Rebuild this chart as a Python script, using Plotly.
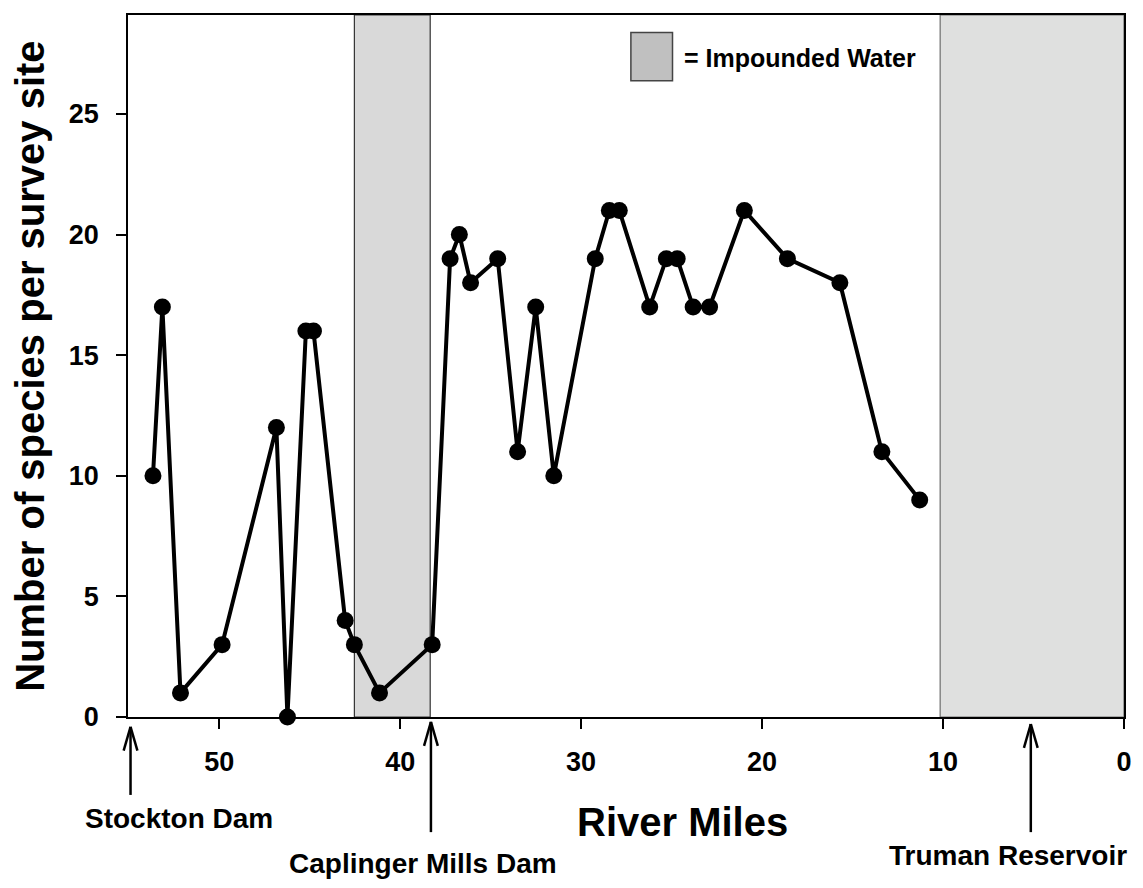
import plotly.graph_objects as go

# River miles of survey sites and number of species found
river_miles = [53.66, 53.14, 52.14, 49.84, 46.84, 46.23, 45.21, 44.79, 43.04, 42.53,
               41.14, 38.23, 37.24, 36.73, 36.11, 34.61, 33.51, 32.51, 31.51, 29.22,
               28.44, 27.89, 26.21, 25.29, 24.69, 23.81, 22.90, 20.98, 18.60, 15.70,
               13.38, 11.29]
species = [10, 17, 1, 3, 12, 0, 16, 16, 4, 3,
           1, 3, 19, 20, 18, 19, 11, 17, 10, 19,
           21, 21, 17, 19, 19, 17, 17, 21, 19, 18,
           11, 9]

x_ticks = [0, 10, 20, 30, 40, 50]
y_ticks = [0, 5, 10, 15, 20, 25]

X_RANGE = [55.04, 0]
Y_RANGE = [0, 29.1]

# impounded water stretches (river miles)
impounded = [(42.53, 38.34, "#d9d9d9", "#333333"), (10.16, 0.0, "#dfe0df", "#6e6e6e")]

# landmark arrows: (name, river mile of arrow, label mile, tip / bottom paper y, label paper y)
landmarks = [
    ("Stockton Dam", 54.9, 52.2, -0.014, -0.111, -0.144),
    ("Caplinger Mills Dam", 38.3, 38.76, -0.007, -0.164, -0.209),
    ("Truman Reservoir", 5.15, 6.41, -0.010, -0.164, -0.197),
]

FONT = "Liberation Sans, Arial, sans-serif"


def mile_to_paper(m):
    return (X_RANGE[0] - m) / (X_RANGE[0] - X_RANGE[1])


fig = go.Figure()

fig.add_trace(go.Scatter(
    x=river_miles, y=species, mode="lines+markers",
    line=dict(color="black", width=4),
    marker=dict(color="black", size=17),
    showlegend=False, cliponaxis=False,
))

shapes = []
for x0, x1, fill, lc in impounded:
    shapes.append(dict(type="rect", xref="x", yref="y", x0=x0, x1=x1, y0=Y_RANGE[0], y1=Y_RANGE[1],
                       fillcolor=fill, line=dict(color=lc, width=1.2), layer="below"))

# legend box
shapes.append(dict(type="rect", xref="x", yref="y", x0=27.25, x1=24.95, y0=26.37, y1=28.37,
                   fillcolor="#c0c0c0", line=dict(color="#444444", width=1.5), layer="above"))

annotations = []
for name, xm, xl, ytip, ybot, ylab in landmarks:
    px = mile_to_paper(xm)
    dx = 0.38 / (X_RANGE[0] - X_RANGE[1])
    shapes.append(dict(type="line", xref="paper", yref="paper", x0=px, x1=px, y0=ytip, y1=ybot,
                       line=dict(color="black", width=2.5)))
    shapes.append(dict(type="line", xref="paper", yref="paper", x0=px, x1=px + dx, y0=ytip, y1=ytip - 0.034,
                       line=dict(color="black", width=2.5)))
    shapes.append(dict(type="line", xref="paper", yref="paper", x0=px, x1=px - dx, y0=ytip, y1=ytip - 0.034,
                       line=dict(color="black", width=2.5)))
    annotations.append(dict(text="<b>%s</b>" % name, x=xl, y=ylab, xref="x", yref="paper",
                            showarrow=False, xanchor="center", yanchor="middle",
                            font=dict(family=FONT, size=28, color="black")))

annotations.append(dict(text="<b>= Impounded Water</b>", x=24.4, y=27.3, xref="x", yref="y",
                        showarrow=False, xanchor="left", yanchor="middle",
                        font=dict(family=FONT, size=25, color="black")))
annotations.append(dict(text="<b>River Miles</b>", x=0.557, y=-0.150, xref="paper", yref="paper",
                        showarrow=False, xanchor="center", yanchor="middle",
                        font=dict(family=FONT, size=40, color="black")))
annotations.append(dict(text="<b>Number of species per survey site</b>", x=-0.0986, y=0.5,
                        xref="paper", yref="paper", textangle=-90,
                        showarrow=False, xanchor="center", yanchor="middle",
                        font=dict(family=FONT, size=40, color="black")))

fig.update_layout(
    width=1143, height=888,
    margin=dict(l=128, r=11, t=15, b=171),
    paper_bgcolor="white", plot_bgcolor="white",
    shapes=shapes, annotations=annotations,
    font=dict(family=FONT, color="black"),
)

fig.update_xaxes(
    range=X_RANGE, tickvals=x_ticks, ticktext=[str(v) for v in x_ticks],
    ticks="outside", ticklen=10, tickwidth=1.5, tickcolor="black",
    showline=True, linecolor="black", linewidth=1.5, mirror=True,
    showgrid=False, zeroline=False, ticklabelstandoff=10,
    tickfont=dict(family=FONT, size=27, color="black", weight="bold"),
)
fig.update_yaxes(
    range=Y_RANGE, tickvals=y_ticks, ticktext=[str(v) for v in y_ticks],
    ticks="outside", ticklen=10, tickwidth=1.5, tickcolor="black",
    showline=True, linecolor="black", linewidth=1.5, mirror=True,
    showgrid=False, zeroline=False, ticklabelstandoff=12,
    tickfont=dict(family=FONT, size=27, color="black", weight="bold"),
)

fig.write_html("out.html")
